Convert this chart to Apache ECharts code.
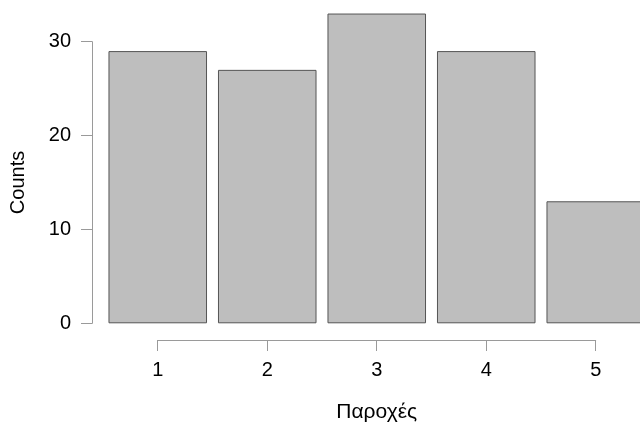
<!DOCTYPE html>
<html><head><meta charset="utf-8">
<script src="https://cdn.jsdelivr.net/npm/echarts@6/dist/echarts.min.js"></script>
<style>html,body{margin:0;padding:0;background:#fff}#c{width:640px;height:425px}</style>
</head><body><div id="c"></div>
<script>
const categories = ['1','2','3','4','5'];
const counts = [29, 27, 33, 29, 13];
const yTicks = [0, 10, 20, 30];
const xTicks = [1, 2, 3, 4, 5];

const font = 'Liberation Sans, Arial, Helvetica, sans-serif';
const axisColor = '#9a9a9a';
const chart = echarts.init(document.getElementById('c'), null, {renderer: 'canvas'});
chart.setOption({
  animation: false,
  backgroundColor: '#ffffff',
  grid: [
    {left: 103, width: 547.5, top: 41.7, bottom: 101.7, outerBoundsMode: 'none', containLabel: false},
    {left: 157.7, right: 44.3, top: 323, bottom: 85, outerBoundsMode: 'none', containLabel: false}
  ],
  xAxis: [
    {gridIndex: 0, type: 'category', data: categories, show: false},
    {gridIndex: 1, type: 'value', min: xTicks[0], max: xTicks[xTicks.length-1], interval: 1,
     position: 'bottom',
     axisLine: {show: true, lineStyle: {color: axisColor, width: 1}},
     axisTick: {show: true, inside: false, length: 11, lineStyle: {color: axisColor}},
     axisLabel: {margin: 20, fontSize: 20, color: '#000', fontFamily: font},
     splitLine: {show: false},
     name: 'Παροχές', nameLocation: 'middle', nameGap: 62,
     nameTextStyle: {fontSize: 21, color: '#000', fontFamily: font}}
  ],
  yAxis: [
    {gridIndex: 0, type: 'value', min: yTicks[0], max: yTicks[yTicks.length-1], interval: 10,
     offset: 11,
     axisLine: {show: true, lineStyle: {color: axisColor, width: 1}},
     axisTick: {show: true, inside: false, length: 11, lineStyle: {color: axisColor}},
     axisLabel: {margin: 21, fontSize: 20, color: '#000', fontFamily: font},
     splitLine: {show: false},
     name: 'Counts', nameLocation: 'middle', nameGap: 64, nameRotate: 90,
     nameTextStyle: {fontSize: 20, color: '#000', fontFamily: font}},
    {gridIndex: 1, type: 'value', show: false}
  ],
  series: [{
    type: 'bar', xAxisIndex: 0, yAxisIndex: 0,
    data: counts, clip: false,
    barCategoryGap: '10%',
    itemStyle: {color: '#bebebe', borderColor: '#555555', borderWidth: 1},
    emphasis: {disabled: true}
  }]
});
</script></body></html>
